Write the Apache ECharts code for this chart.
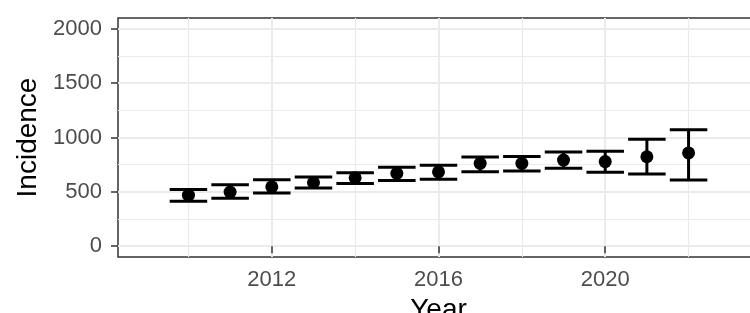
<!DOCTYPE html>
<html>
<head>
<meta charset="utf-8">
<script src="https://cdn.jsdelivr.net/npm/echarts@6/dist/echarts.min.js"></script>
<style>
  html, body { margin: 0; padding: 0; background: #fff; }
  #chart { width: 750px; height: 313px; }
</style>
</head>
<body>
<div id="chart"></div>
<script>
// values
var years = [2010, 2011, 2012, 2013, 2014, 2015, 2016, 2017, 2018, 2019, 2020, 2021, 2022];
var incidence = [469, 498, 546, 586, 629, 670, 683, 762, 762, 792, 778, 823, 858];
var lower = [414, 440, 489, 534, 576, 604, 615, 684, 691, 718, 679, 664, 608];
var upper = [522, 566, 610, 636, 675, 726, 744, 820, 826, 866, 874, 984, 1071];

var xTicks = [2012, 2016, 2020];
var xMinor = [2010, 2014, 2018, 2022];
var yTicks = [0, 500, 1000, 1500, 2000];
var yMinor = [250, 750, 1250, 1750];

var font = '"Liberation Sans", Arial, Helvetica, sans-serif';
var capHalf = 0.45;

var points = [], bars = [];
for (var i = 0; i < years.length; i++) {
  points.push([years[i], incidence[i]]);
  bars.push([years[i], lower[i], upper[i]]);
}

function vLines(arr) {
  return arr.map(function (v) { return { xAxis: v }; });
}
function hLines(arr) {
  return arr.map(function (v) { return { yAxis: v }; });
}
function plain(v) { return String(v); }

var myChart = echarts.init(document.getElementById('chart'));
var option = {
  animation: false,
  backgroundColor: '#ffffff',
  grid: {
    left: 118,
    top: 18,
    right: -9,
    bottom: 56,
    containLabel: false,
    outerBoundsMode: 'none',
    show: true,
    borderColor: '#333333',
    borderWidth: 1.5,
    backgroundColor: 'transparent'
  },
  xAxis: {
    type: 'value',
    min: 2008.31,
    max: 2023.69,
    name: 'Year',
    nameLocation: 'middle',
    nameGap: 38,
    nameTextStyle: { fontFamily: font, fontSize: 28, color: '#000' },
    axisLine: { show: false },
    axisTick: { show: true, length: 7, customValues: xTicks, lineStyle: { color: '#333333', width: 1.5 } },
    axisLabel: { customValues: xTicks, formatter: plain, margin: 12, fontFamily: font, fontSize: 22, color: '#4D4D4D' },
    splitLine: { show: false }
  },
  yAxis: {
    type: 'value',
    min: -100,
    max: 2100,
    name: 'Incidence',
    nameLocation: 'middle',
    nameGap: 72,
    nameTextStyle: { fontFamily: font, fontSize: 28, color: '#000' },
    axisLine: { show: false },
    axisTick: { show: true, length: 7, customValues: yTicks, lineStyle: { color: '#333333', width: 1.5 } },
    axisLabel: { customValues: yTicks, formatter: plain, margin: 16, fontFamily: font, fontSize: 22, color: '#4D4D4D' },
    splitLine: { show: false }
  },
  series: [
    {
      // minor grid lines
      type: 'line',
      data: [],
      silent: true,
      z: 0,
      markLine: {
        silent: true,
        z: 0,
        symbol: ['none', 'none'],
        label: { show: false },
        lineStyle: { color: '#EBEBEB', width: 1.2, type: 'solid' },
        data: vLines(xMinor).concat(hLines(yMinor))
      }
    },
    {
      // major grid lines
      type: 'line',
      data: [],
      silent: true,
      z: 0,
      markLine: {
        silent: true,
        z: 0,
        symbol: ['none', 'none'],
        label: { show: false },
        lineStyle: { color: '#EBEBEB', width: 2, type: 'solid' },
        data: vLines(xTicks).concat(hLines(yTicks))
      }
    },
    {
      type: 'custom',
      data: bars,
      encode: { x: 0, y: [1, 2] },
      z: 3,
      renderItem: function (params, api) {
        var x = api.value(0), lo = api.value(1), hi = api.value(2);
        var top = api.coord([x, hi]);
        var bot = api.coord([x, lo]);
        var l = api.coord([x - capHalf, hi])[0];
        var r = api.coord([x + capHalf, hi])[0];
        var st = { stroke: '#000', lineWidth: 3 };
        return {
          type: 'group',
          children: [
            { type: 'line', shape: { x1: top[0], y1: top[1], x2: bot[0], y2: bot[1] }, style: st },
            { type: 'line', shape: { x1: l, y1: top[1], x2: r, y2: top[1] }, style: st },
            { type: 'line', shape: { x1: l, y1: bot[1], x2: r, y2: bot[1] }, style: st }
          ]
        };
      }
    },
    {
      type: 'scatter',
      data: points,
      symbol: 'circle',
      symbolSize: 13,
      z: 4,
      itemStyle: { color: '#000', opacity: 1 }
    }
  ]
};
myChart.setOption(option);
</script>
</body>
</html>
